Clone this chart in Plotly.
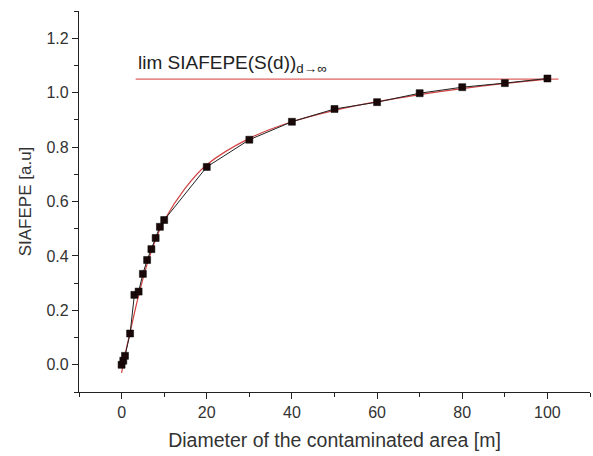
import plotly.graph_objects as go

# measured data
diam = [0, 0.4, 0.8, 2, 3, 4, 5, 6, 7, 8, 9, 10, 20, 30, 40, 50, 60, 70, 80, 90, 100]
siafepe = [0.0, 0.015, 0.033, 0.115, 0.257, 0.269, 0.334, 0.385, 0.425, 0.466, 0.507, 0.532,
           0.727, 0.827, 0.893, 0.94, 0.965, 0.998, 1.02, 1.035, 1.052]

# fitted curve
fit_x = [0, 1, 2, 4, 6, 8, 10, 15, 20, 30, 40, 50, 60, 70, 80, 90, 100]
fit_y = [-0.03, 0.05, 0.12, 0.255, 0.37, 0.46, 0.53, 0.65, 0.735, 0.832, 0.893, 0.935,
         0.967, 0.993, 1.015, 1.034, 1.05]

# limit line
lim_x = [3.3, 102.6]
lim_y = [1.05, 1.05]

x_ticks = [0, 20, 40, 60, 80, 100]
y_ticks = [0.0, 0.2, 0.4, 0.6, 0.8, 1.0, 1.2]

FONT = "Liberation Sans, Arial"

fig = go.Figure()
fig.add_trace(go.Scatter(x=lim_x, y=lim_y, mode="lines",
                         line=dict(color="#e06060", width=1.2), showlegend=False))
fig.add_trace(go.Scatter(x=fit_x, y=fit_y, mode="lines", line_shape="spline",
                         line=dict(color="#d04040", width=1.2), showlegend=False))
fig.add_trace(go.Scatter(x=diam, y=siafepe, mode="lines+markers",
                         line=dict(color="#222222", width=1),
                         marker=dict(symbol="square", size=7, color="#1a0808",
                                     line=dict(color="#000000", width=0.5)),
                         showlegend=False))

fig.add_annotation(x=3.5, y=1.05, xref="x", yref="y", xanchor="left", yanchor="bottom",
                   yshift=1, showarrow=False,
                   text="lim SIAFEPE(S(d))<sub>d\u2192\u221e</sub>",
                   font=dict(family=FONT, size=19, color="#222222"))

fig.update_layout(
    width=593, height=456,
    margin=dict(l=79, r=3, t=11, b=64),
    paper_bgcolor="white", plot_bgcolor="white",
    font=dict(family=FONT, size=16, color="#333333"),
    xaxis=dict(range=[-10, 110], tickvals=x_ticks, ticks="outside", ticklen=6,
               tickcolor="#222222", showline=True, linecolor="#222222", linewidth=1.2,
               showgrid=False, zeroline=False,
               minor=dict(dtick=10, tick0=0, ticks="outside", ticklen=4, tickcolor="#222222"),
               title=dict(text="Diameter of the contaminated area [m]", standoff=13,
                          font=dict(size=19.5))),
    yaxis=dict(range=[-0.1, 1.3], tickvals=y_ticks, tickformat=".1f", ticks="outside",
               ticklen=6, tickcolor="#222222", showline=True, linecolor="#222222",
               linewidth=1.2, showgrid=False, zeroline=False,
               minor=dict(dtick=0.1, tick0=0, ticks="outside", ticklen=4, tickcolor="#222222"),
               title=dict(text="SIAFEPE [a.u]", standoff=10, font=dict(size=17))),
)

fig.write_html("out.html")
